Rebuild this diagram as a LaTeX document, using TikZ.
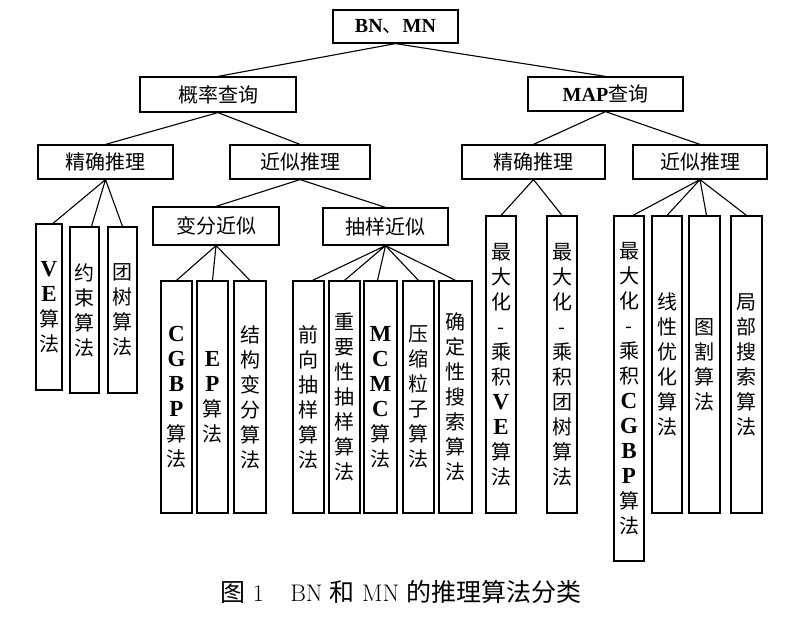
\documentclass[tikz,border=0pt]{standalone}
\usepackage{fontspec}
\usepackage{tikz}
\newfontfamily\cjk{Noto Sans CJK SC}
\newfontfamily\tms{Liberation Serif}
\newcommand{\latn}[1]{{\tms\bfseries #1}}
\newcommand{\vlatn}[1]{{\tms\bfseries\fontsize{23}{25}\selectfont #1}}

\begin{document}
\begin{tikzpicture}[x=1pt,y=-1pt,
  box/.style={draw,line width=1.2pt,inner sep=0pt,font=\cjk\fontsize{20}{25}\selectfont},
  leaf/.style={box,align=center,minimum width=31pt},
  edge/.style={line width=1.1pt}]
\useasboundingbox (0,0) rectangle (793,639);
% upper levels
\node[box,minimum width=125pt,minimum height=33pt] (root) at (395.5,26.5) {\latn{BN}、\latn{MN}};
\node[box,minimum width=156pt,minimum height=35pt] (prob) at (218,94.5) {概率查询};
\node[box,minimum width=155pt,minimum height=34pt] (map) at (605.5,94) {\latn{MAP}查询};
\node[box,minimum width=135pt,minimum height=34pt] (exactL) at (105.5,162) {精确推理};
\node[box,minimum width=140pt,minimum height=34pt] (approxL) at (300,162) {近似推理};
\node[box,minimum width=143pt,minimum height=34pt] (exactR) at (533.5,162) {精确推理};
\node[box,minimum width=134pt,minimum height=34pt] (approxR) at (700,162) {近似推理};
\node[box,minimum width=126pt,minimum height=38pt] (vari) at (216,226) {变分近似};
\node[box,minimum width=125pt,minimum height=37pt] (samp) at (385.5,226.5) {抽样近似};
% leaves
\node[leaf,minimum width=26pt,minimum height=166pt] (ve) at (49,307) {\vlatn{V}\\\vlatn{E}\\算\\法};
\node[leaf,minimum width=29pt,minimum height=166pt] (cons) at (84.5,310) {约\\束\\算\\法};
\node[leaf,minimum width=29pt,minimum height=166pt] (jtree) at (122.5,310) {团\\树\\算\\法};
\node[leaf,minimum height=232pt] (cgbp) at (176.5,397) {\vlatn{C}\\\vlatn{G}\\\vlatn{B}\\\vlatn{P}\\算\\法};
\node[leaf,minimum height=232pt] (ep) at (212.5,397) {\vlatn{E}\\\vlatn{P}\\算\\法};
\node[leaf,minimum width=32pt,minimum height=232pt] (struct) at (250,397) {结\\构\\变\\分\\算\\法};
\node[leaf,minimum height=232pt] (fwd) at (308.5,397) {前\\向\\抽\\样\\算\\法};
\node[leaf,minimum height=232pt] (imp) at (344.5,397) {重\\要\\性\\抽\\样\\算\\法};
\node[leaf,minimum width=33pt,minimum height=232pt] (mcmc) at (380.5,397) {\vlatn{M}\\\vlatn{C}\\\vlatn{M}\\\vlatn{C}\\算\\法};
\node[leaf,minimum height=232pt] (comp) at (418.5,397) {压\\缩\\粒\\子\\算\\法};
\node[leaf,minimum width=33pt,minimum height=232pt] (dets) at (455.5,397) {确\\定\\性\\搜\\索\\算\\法};
\node[leaf,minimum width=30pt,minimum height=297pt] (mpve) at (501,364.5) {最\\大\\化\\-\\乘\\积\\\vlatn{V}\\\vlatn{E}\\算\\法};
\node[leaf,minimum width=30pt,minimum height=297pt] (mpjt) at (562,364.5) {最\\大\\化\\-\\乘\\积\\团\\树\\算\\法};
\node[leaf,minimum width=30pt,minimum height=345pt] (mpcgbp) at (629,388.5) {最\\大\\化\\-\\乘\\积\\\vlatn{C}\\\vlatn{G}\\\vlatn{B}\\\vlatn{P}\\算\\法};
\node[leaf,minimum width=30pt,minimum height=297pt] (linopt) at (667,364.5) {线\\性\\优\\化\\算\\法};
\node[leaf,minimum height=297pt] (gcut) at (704.5,364.5) {图\\割\\算\\法};
\node[leaf,minimum height=297pt] (lsearch) at (746.5,364.5) {局\\部\\搜\\索\\算\\法};
% connectors
\draw[edge] (root.south) -- (prob.north) (root.south) -- (map.north);
\draw[edge] (prob.south) -- (exactL.north) (prob.south) -- (approxL.north);
\draw[edge] (map.south) -- (exactR.north) (map.south) -- (approxR.north);
\draw[edge] (approxL.south) -- (vari.north) (approxL.south) -- (samp.north);
\draw[edge] (exactL.south) -- ([xshift=4pt]ve.north) (exactL.south) -- ([xshift=7pt]cons.north) (exactL.south) -- (jtree.north);
\draw[edge] (vari.south) -- (cgbp.north) (vari.south) -- (ep.north) (vari.south) -- (struct.north);
\draw[edge] (samp.south) -- ([xshift=4pt]fwd.north) (samp.south) -- (imp.north) (samp.south) -- ([xshift=-3pt]mcmc.north)
  (samp.south) -- (comp.north) (samp.south) -- (dets.north);
\draw[edge] (exactR.south) -- (mpve.north) (exactR.south) -- (mpjt.north);
\draw[edge] (approxR.south) -- ([xshift=4pt]mpcgbp.north) (approxR.south) -- (linopt.north)
  (approxR.south) -- ([xshift=2pt]gcut.north) (approxR.south) -- (lsearch.north);
% caption
\node[font=\fontsize{24}{28}\selectfont] (cap) at (401,592) {{\cjk\fontsize{25}{28}\selectfont 图}~1\hspace{1.1em}BN~{\cjk\fontsize{25}{28}\selectfont 和}~MN~{\cjk\fontsize{25}{28}\selectfont 的推理算法分类}};
\end{tikzpicture}
\end{document}
